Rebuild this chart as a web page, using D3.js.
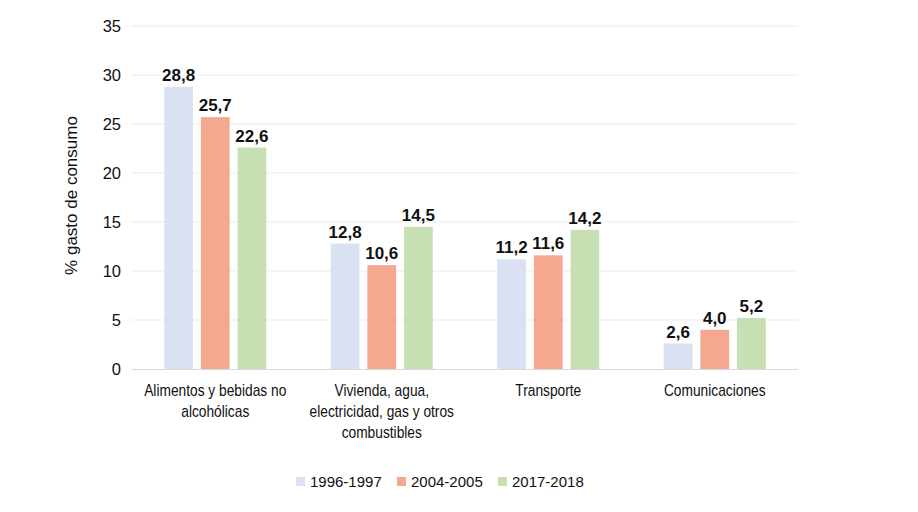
<!DOCTYPE html>
<html>
<head>
<meta charset="utf-8">
<script src="https://cdn.jsdelivr.net/npm/d3@7"></script>
<style>
  body { margin: 0; background: #fff; }
  svg { display: block; font-family: "Liberation Sans", Arial, sans-serif; }
</style>
</head>
<body>
<div id="chart"></div>
<script>
// Chart data
const categories = [
  ["Alimentos y bebidas no", "alcohólicas"],
  ["Vivienda, agua,", "electricidad, gas y otros", "combustibles"],
  ["Transporte"],
  ["Comunicaciones"]
];
const seriesNames = ["1996-1997", "2004-2005", "2017-2018"];
const seriesColors = ["#dae1f2", "#f4a88f", "#c6e0b4"];
const values1996 = [28.8, 12.8, 11.2, 2.6];
const values2004 = [25.7, 10.6, 11.6, 4.0];
const values2017 = [22.6, 14.5, 14.2, 5.2];
const yTicks = [0, 5, 10, 15, 20, 25, 30, 35];

const seriesValues = [values1996, values2004, values2017];

const width = 918, height = 512;
const margin = { left: 132, right: 120, top: 26, bottom: 143 };

const svg = d3.select('#chart').append('svg')
  .attr('width', width)
  .attr('height', height);

const x0 = d3.scaleBand()
  .domain(d3.range(categories.length))
  .range([margin.left, width - margin.right])
  .paddingInner(0.387)
  .paddingOuter(0.1935);

const x1 = d3.scaleBand()
  .domain(d3.range(seriesNames.length))
  .range([0, x0.bandwidth()])
  .paddingInner(0.216);

const y = d3.scaleLinear()
  .domain([0, 35])
  .range([height - margin.bottom, margin.top]);

// Gridlines
svg.append('g')
  .selectAll('line')
  .data(yTicks.slice(1))
  .join('line')
  .attr('x1', margin.left)
  .attr('x2', width - margin.right)
  .attr('y1', d => y(d))
  .attr('y2', d => y(d))
  .attr('stroke', '#ebebeb')
  .attr('stroke-width', 1);

// Y axis tick labels
const yAxis = d3.axisLeft(y).tickValues(yTicks).tickSize(0).tickPadding(11);
svg.append('g')
  .attr('transform', `translate(${margin.left},0)`)
  .call(yAxis)
  .call(g => g.select('.domain').remove())
  .call(g => g.selectAll('text')
    .attr('font-size', 16.5)
    .attr('font-family', '"Liberation Sans", Arial, sans-serif')
    .attr('fill', '#111'));

// Y axis title
svg.append('text')
  .attr('transform', `translate(77,${y(17.5) - 2}) rotate(-90)`)
  .attr('text-anchor', 'middle')
  .attr('font-size', 17)
  .attr('fill', '#111')
  .text('% gasto de consumo');

// Bars
const groups = svg.append('g')
  .selectAll('g')
  .data(categories.map((c, i) => i))
  .join('g')
  .attr('transform', i => `translate(${x0(i)},0)`);

groups.selectAll('rect')
  .data(i => seriesValues.map((s, j) => ({ j, v: s[i] })))
  .join('rect')
  .attr('x', d => x1(d.j))
  .attr('width', x1.bandwidth())
  .attr('y', d => y(d.v))
  .attr('height', d => y(0) - y(d.v))
  .attr('fill', d => seriesColors[d.j]);

groups.selectAll('text.value')
  .data(i => seriesValues.map((s, j) => ({ j, v: s[i] })))
  .join('text')
  .attr('class', 'value')
  .attr('x', d => x1(d.j) + x1.bandwidth() / 2)
  .attr('y', d => y(d.v) - 6)
  .attr('text-anchor', 'middle')
  .attr('font-size', 17)
  .attr('font-weight', 'bold')
  .attr('fill', '#111')
  .text(d => d.v.toFixed(1).replace('.', ','));

// Baseline
svg.append('line')
  .attr('x1', margin.left)
  .attr('x2', width - margin.right)
  .attr('y1', y(0) + 0.5)
  .attr('y2', y(0) + 0.5)
  .attr('stroke', '#d9d9d9');

// Category labels (condensed look)
const catLabels = svg.append('g')
  .selectAll('text')
  .data(categories)
  .join('text')
  .attr('transform', (d, i) => `translate(${x0(i) + x0.bandwidth() / 2},${y(0) + 27}) scale(0.86,1)`)
  .attr('text-anchor', 'middle')
  .attr('font-size', 16)
  .attr('fill', '#111');

catLabels.selectAll('tspan')
  .data(d => d)
  .join('tspan')
  .attr('x', 0)
  .attr('dy', (d, i) => i ? 21 : 0)
  .text(d => d);

// Legend
const legendX = [296, 397, 498];
const legend = svg.append('g')
  .selectAll('g')
  .data(seriesNames)
  .join('g')
  .attr('transform', (d, i) => `translate(${legendX[i]},481)`);

legend.append('rect')
  .attr('x', 0)
  .attr('y', -4)
  .attr('width', 9)
  .attr('height', 9)
  .attr('fill', (d, i) => seriesColors[i]);

legend.append('text')
  .attr('x', 14)
  .attr('y', 6)
  .attr('font-size', 15)
  .attr('fill', '#111')
  .text(d => d);
</script>
</body>
</html>
